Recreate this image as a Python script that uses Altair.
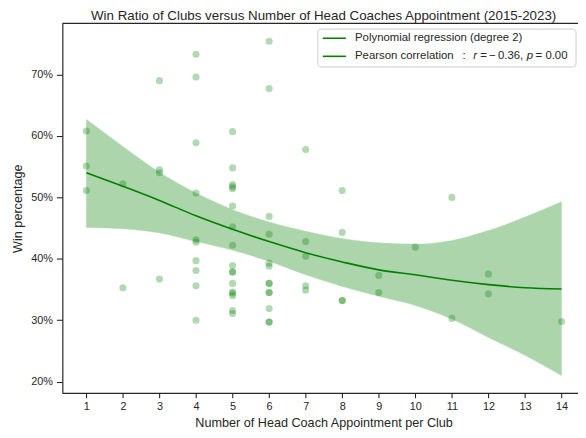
import altair as alt
import pandas as pd

# ---- data ----
coach_counts = (
    [1] * 3 + [2] * 2 + [3] * 4 + [4] * 10 + [5] * 17 + [6] * 13 + [7] * 5
    + [8] * 4 + [9] * 2 + [10] * 1 + [11] * 2 + [12] * 2 + [14] * 1
)
win_pcts = (
    [60.8, 55.1, 51.1]
    + [52.2, 35.3]
    + [69.0, 54.5, 54.0, 36.7]
    + [73.3, 69.6, 58.9, 50.7, 43.1, 42.7, 39.7, 38.1, 35.6, 30.0]
    + [60.7, 54.8, 52.1, 51.7, 51.4, 48.6, 45.2, 42.2, 38.9, 37.9, 37.8, 36.0, 34.6, 34.4, 34.0, 31.6, 31.1]
    + [75.4, 67.7, 46.9, 44.0, 39.3, 38.8, 36.0, 36.0, 34.5, 34.5, 31.9, 29.7, 29.7]
    + [57.8, 42.8, 40.4, 35.6, 34.9]
    + [51.1, 44.3, 33.2, 33.2]
    + [37.3, 34.5]
    + [41.9]
    + [50.0, 30.3]
    + [37.5, 34.3]
    + [29.8]
)
fit_x = list(range(1, 15))
fit_line = [54.0, 51.8, 49.5, 47.0, 44.8, 42.8, 41.0, 39.5, 38.2, 37.4, 36.5, 35.8, 35.3, 35.1]
ci_upper = [62.7, 58.3, 54.1, 50.7, 48.0, 46.0, 44.5, 43.3, 42.6, 42.4, 43.0, 44.6, 46.8, 49.3]
ci_lower = [45.1, 44.9, 44.2, 42.8, 41.4, 39.6, 37.4, 35.5, 33.9, 32.4, 30.2, 27.2, 24.3, 21.0]

x_ticks = list(range(1, 15))
y_ticks = [0.2, 0.3, 0.4, 0.5, 0.6, 0.7]

pts = pd.DataFrame({"n": coach_counts[: len(win_pcts)], "w": [v / 100 for v in win_pcts]})
fit = pd.DataFrame({
    "n": fit_x,
    "w": [v / 100 for v in fit_line],
    "lo": [v / 100 for v in ci_lower],
    "hi": [v / 100 for v in ci_upper],
})

W, H = 522, 374
FONT = "Liberation Sans"
SPINE = "#262626"
GREEN = "#008000"

xs = alt.Scale(domain=[0.343, 14.45], nice=False, zero=False)
ys = alt.Scale(domain=[0.1818, 0.7831], nice=False, zero=False)

x_axis = alt.Axis(
    values=x_ticks, title="Number of Head Coach Appointment per Club", grid=False,
    tickSize=5, tickColor=SPINE, domainColor=SPINE, domainWidth=1.2, tickWidth=1.1,
    labelFontSize=11, labelFont=FONT, labelColor="#262626", labelPadding=3,
    titleFont=FONT, titleFontSize=12.8, titleFontWeight="normal", titleColor="#262626",
    titlePadding=5, titleX=264.5, titleAlign="center", labelFlush=False,
)
y_axis = alt.Axis(
    values=y_ticks, format=".0%", title="Win percentage", grid=False,
    tickSize=6, tickColor=SPINE, domainColor=SPINE, domainWidth=1.2, tickWidth=1.1,
    labelFontSize=11, labelFont=FONT, labelColor="#262626", labelPadding=4,
    titleFont=FONT, titleFontSize=12.8, titleFontWeight="normal", titleColor="#262626",
    titlePadding=6, labelFlush=False,
)

band = alt.Chart(fit).mark_area(
    color=GREEN, opacity=0.32, interpolate="monotone",
    stroke=GREEN, strokeOpacity=0.35, strokeWidth=1,
).encode(
    x=alt.X("n:Q", scale=xs, axis=x_axis),
    y=alt.Y("lo:Q", scale=ys, axis=y_axis),
    y2="hi:Q",
)

line = alt.Chart(fit).mark_line(color=GREEN, strokeWidth=1.6, interpolate="monotone").encode(
    x=alt.X("n:Q", scale=xs),
    y=alt.Y("w:Q", scale=ys),
)

points = alt.Chart(pts).mark_circle(size=52, color=GREEN, opacity=0.3).encode(
    x=alt.X("n:Q", scale=xs),
    y=alt.Y("w:Q", scale=ys),
)

one = alt.Data(values=[{"k": 1}])

top_spine = alt.Chart(one).mark_rule(color=SPINE, strokeWidth=1.2).encode(
    x=alt.value(0), x2=alt.value(W), y=alt.value(0)
)

legend_box = alt.Chart(one).mark_rect(
    fill="white", fillOpacity=0.85, stroke="#cccccc", strokeWidth=1, cornerRadius=3
).encode(x=alt.value(258.7), x2=alt.value(520), y=alt.value(5.7), y2=alt.value(44))

leg_line1 = alt.Chart(one).mark_rule(color=GREEN, strokeWidth=1.6).encode(
    x=alt.value(263.7), x2=alt.value(287), y=alt.value(15)
)
leg_line2 = alt.Chart(one).mark_rule(color=GREEN, strokeWidth=1.6).encode(
    x=alt.value(263.7), x2=alt.value(287), y=alt.value(33.3)
)


def txt(s, x, y, italic=False, size=11.5, align="left"):
    return alt.Chart(one).mark_text(
        text=s, align=align, baseline="middle", font=FONT, fontSize=size,
        fontStyle="italic" if italic else "normal", color="#262626",
    ).encode(x=alt.value(x), y=alt.value(y))


legend_texts = [
    txt("Polynomial regression (degree 2)", 296.3, 15),
    txt("Pearson correlation", 296.3, 33.3),
    txt(":", 405, 33.3),
    txt("r", 416, 33.3, True),
    txt("=", 423, 33.3),
    txt("\u2212", 432, 33.3),
    txt("0.36,", 441, 33.3),
    txt("p", 470, 33.3, True),
    txt("=", 479, 33.3),
    txt("0.00", 489, 33.3),
]

title = txt(
    "Win Ratio of Clubs versus Number of Head Coaches Appointment (2015-2023)",
    264.5, -7, size=13.5, align="center",
)

chart = alt.layer(
    band, line, points, top_spine, legend_box, leg_line1, leg_line2, title, *legend_texts
).properties(
    width=W, height=H,
    autosize="none",
    padding={"left": 55, "top": 13, "right": 0, "bottom": 40},
).configure_view(stroke=None)

chart.save("out.html", embed_options={"renderer": "svg", "actions": False})
